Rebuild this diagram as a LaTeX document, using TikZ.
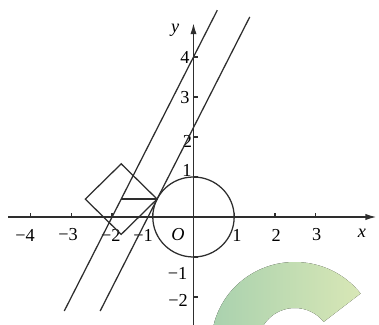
\documentclass[tikz,border=0pt]{standalone}
\usepackage{fontspec}
\setmainfont{Liberation Serif}
\usetikzlibrary{arrows.meta,calc}
\definecolor{inkgray}{HTML}{2E2E2E}
\definecolor{leafgreen}{HTML}{A9D1AE}
\definecolor{limegreen}{HTML}{D8E7B6}

\begin{document}
\begin{tikzpicture}[x=1.0175cm,y=1cm,font=\fontsize{13}{15}\selectfont,
    axis/.style={inkgray,line width=1.1pt,-{Latex[length=8pt,width=4.5pt]}},
    curve/.style={inkgray,line width=0.9pt},
    lbl/.style={inner sep=0pt}]
  \useasboundingbox (-4.754,-2.7) rectangle (4.558,5.425);
  % faint green mark
  \fill[left color=leafgreen,right color=limegreen]
    (2.49,-3.175) ++(38:2.05) arc (38:180:2.05) -- ++(1.15,0) arc (180:38:0.9) -- cycle;
  % axes
  \draw[axis] (-4.55,0) -- (4.5,0);
  \draw[axis] (0,-2.7) -- (0,4.85);
  \foreach \i in {-4,-3,-2,-1,1,2,3}
    \draw[curve] (\i,0) -- (\i,0.1);
  \foreach \j in {-2,-1,1,2,3,4}
    \draw[curve] (0,\j) -- (0.1,\j);
  \node[lbl] (xm4) at (-4.14,-0.45) {−4};
  \node[lbl] (xm3) at (-3.08,-0.45) {−3};
  \node[lbl] (xm2) at (-2.03,-0.45) {−2};
  \node[lbl] (xm1) at (-1.24,-0.45) {−1};
  \node[lbl] (xp1) at (1.07,-0.45) {1};
  \node[lbl] (xp2) at (2.03,-0.45) {2};
  \node[lbl] (xp3) at (3.03,-0.45) {3};
  \node[lbl] (orig) at (-0.38,-0.45) {\itshape O};
  \node[lbl] (xlab) at (4.14,-0.42) {\itshape x};
  \node[lbl] (ylab) at (-0.45,4.68) {\itshape y};
  \node[lbl] (yp4) at (-0.21,3.98) {4};
  \node[lbl] (yp3) at (-0.21,2.98) {3};
  \node[lbl] (yp2) at (-0.15,1.88) {2};
  \node[lbl] (yp1) at (-0.16,1.17) {1};
  \node[lbl] (ym1) at (-0.39,-1.4) {−1};
  \node[lbl] (ym2) at (-0.38,-2.08) {−2};
  % circle and the two parallel lines
  \draw[curve] (0,0) circle (1);
  \coordinate (a1) at (-3.175,-2.35);
  \coordinate (a2) at (0.585,5.17);
  \coordinate (b1) at (-2.293,-2.35);
  \coordinate (b2) at (1.382,5.0);
  \draw[curve] (a1) -- (a2);
  \draw[curve] (b1) -- (b2);
  % square
  \coordinate (T) at (-0.8944,0.4472);
  \coordinate (C) at (-1.7764,0.4472);
  \draw[curve] (T) -- ($(C)+(0,0.882)$) -- ($(C)+(-0.882,0)$)
    -- ($(C)+(0,-0.882)$) -- cycle;
  \draw[curve] (C) -- (T);
\end{tikzpicture}
\end{document}
